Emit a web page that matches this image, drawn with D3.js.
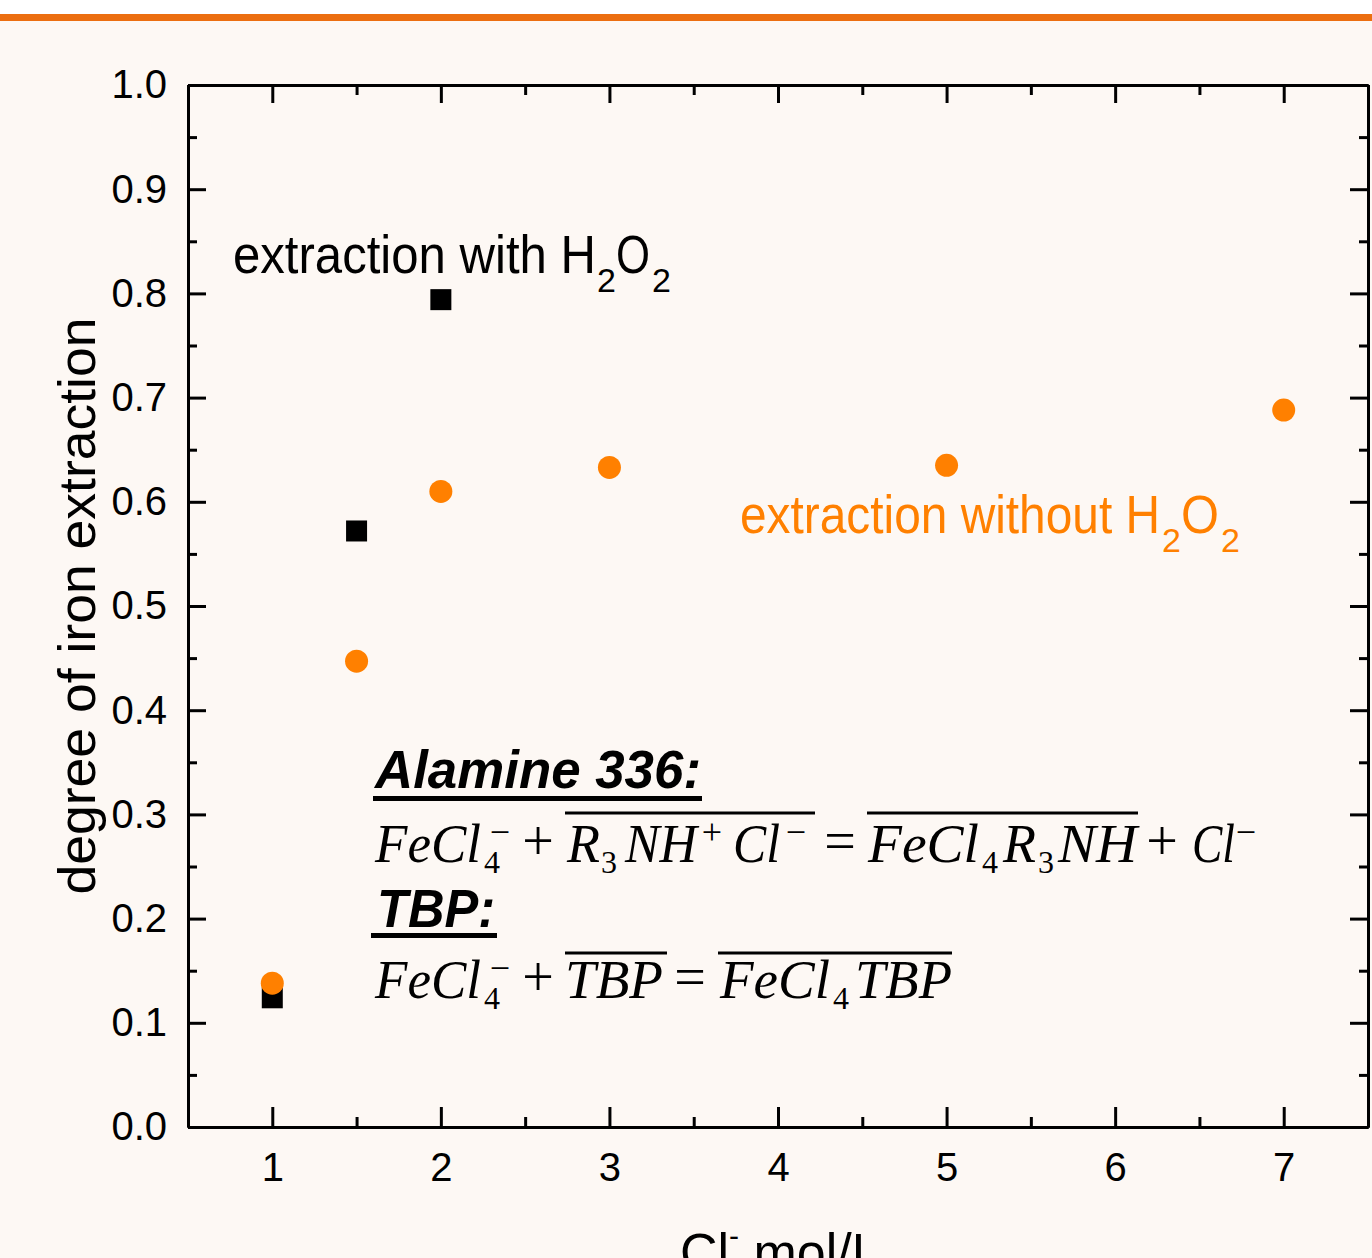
<!DOCTYPE html>
<html>
<head>
<meta charset="utf-8">
<script src="https://cdn.jsdelivr.net/npm/d3@7"></script>
<style>
  html, body { margin: 0; padding: 0; background: #fdf8f4; }
  svg { display: block; }
</style>
</head>
<body>
<svg id="chart" width="1372" height="1258"></svg>
<script>
// ---------- data ----------
const withX = [1, 1.5, 2];
const withY = [0.124, 0.572, 0.794];
const withoutX = [1, 1.5, 2, 3, 5, 7];
const withoutY = [0.138, 0.447, 0.610, 0.633, 0.635, 0.688];
const xTicks = [1, 2, 3, 4, 5, 6, 7];
const yTicks = [0, 0.1, 0.2, 0.3, 0.4, 0.5, 0.6, 0.7, 0.8, 0.9, 1.0];
const xMinor = [0.5, 1.5, 2.5, 3.5, 4.5, 5.5, 6.5, 7.5];
const yMinor = [0.05, 0.15, 0.25, 0.35, 0.45, 0.55, 0.65, 0.75, 0.85, 0.95];

const ORANGE = "#ff8000";
const SANS = "'Liberation Sans', Arial, sans-serif";
const SERIF = "'Liberation Serif', 'Times New Roman', serif";

const svg = d3.select("#chart");
// background
svg.append("rect").attr("x", 0).attr("y", 0).attr("width", 1372).attr("height", 1258).attr("fill", "#fdf8f4");
svg.append("rect").attr("x", 0).attr("y", 0).attr("width", 1372).attr("height", 14).attr("fill", "#ffffff");
svg.append("rect").attr("x", 0).attr("y", 14).attr("width", 1372).attr("height", 7).attr("fill", "#ec6e10");

const L = 188, R = 1368, T = 85, B = 1127;
const x = d3.scaleLinear().domain([0.5, 7.5]).range([L, R]);
const y = d3.scaleLinear().domain([0, 1]).range([B, T]);

function styleAxis(g) {
  g.selectAll("path.domain").attr("stroke", "#000").attr("stroke-width", 3);
  g.selectAll(".tick line").attr("stroke", "#000").attr("stroke-width", 3);
  g.selectAll(".tick text").attr("fill", "#000").attr("font-family", SANS).attr("font-size", 40);
}

// bottom
svg.append("g").attr("transform", `translate(0,${B})`)
  .call(d3.axisBottom(x).tickValues(xMinor).tickSize(-10).tickSizeOuter(0).tickFormat(""))
  .call(styleAxis);
svg.append("g").attr("transform", `translate(0,${B})`)
  .call(d3.axisBottom(x).tickValues(xTicks).tickSize(-20).tickSizeOuter(0).tickPadding(26).tickFormat(d3.format("d")))
  .call(styleAxis);
// top
svg.append("g").attr("transform", `translate(0,${T})`)
  .call(d3.axisTop(x).tickValues(xMinor).tickSize(-10).tickSizeOuter(0).tickFormat(""))
  .call(styleAxis);
svg.append("g").attr("transform", `translate(0,${T})`)
  .call(d3.axisTop(x).tickValues(xTicks).tickSize(-18).tickSizeOuter(0).tickFormat(""))
  .call(styleAxis);
// left
svg.append("g").attr("transform", `translate(${L},0)`)
  .call(d3.axisLeft(y).tickValues(yMinor).tickSize(-9).tickSizeOuter(0).tickFormat(""))
  .call(styleAxis);
svg.append("g").attr("transform", `translate(${L},0)`)
  .call(d3.axisLeft(y).tickValues(yTicks).tickSize(-18).tickSizeOuter(0).tickPadding(21).tickFormat(d3.format(".1f")))
  .call(styleAxis);
// right
svg.append("g").attr("transform", `translate(${R},0)`)
  .call(d3.axisRight(y).tickValues(yMinor).tickSize(-9).tickSizeOuter(0).tickFormat(""))
  .call(styleAxis);
svg.append("g").attr("transform", `translate(${R},0)`)
  .call(d3.axisRight(y).tickValues(yTicks).tickSize(-18).tickSizeOuter(0).tickFormat(""))
  .call(styleAxis);

// ---------- marks ----------
const S = 21;
svg.append("g").selectAll("rect").data(withX.map((d, i) => [d, withY[i]])).join("rect")
  .attr("x", d => x(d[0]) - S / 2).attr("y", d => y(d[1]) - S / 2)
  .attr("width", S).attr("height", S).attr("fill", "#000");
svg.append("g").selectAll("circle").data(withoutX.map((d, i) => [d, withoutY[i]])).join("circle")
  .attr("cx", d => x(d[0])).attr("cy", d => y(d[1])).attr("r", 11.5).attr("fill", ORANGE);

// ---------- axis titles ----------
svg.append("text").attr("transform", "translate(95,606) rotate(-90)")
  .attr("text-anchor", "middle").attr("font-family", SANS).attr("font-size", 52)
  .attr("textLength", 577).attr("lengthAdjust", "spacingAndGlyphs")
  .text("degree of iron extraction");

const xt = svg.append("text").attr("x", 680).attr("y", 1270).attr("font-family", SANS).attr("font-size", 52);
xt.append("tspan").text("Cl");
xt.append("tspan").attr("font-size", 30).attr("dy", -24).text("-");
xt.append("tspan").attr("dy", 24).text(" mol/L");

// ---------- series labels ----------
function seriesLabel(txt, x0, base, mainLen, x2a, xO, oLen, x2b, color) {
  const g = svg.append("g").attr("fill", color).attr("font-family", SANS);
  g.append("text").attr("x", x0).attr("y", base).attr("font-size", 54)
    .attr("textLength", mainLen).attr("lengthAdjust", "spacingAndGlyphs").text(txt);
  g.append("text").attr("x", x2a).attr("y", base + 19).attr("font-size", 34).text("2");
  g.append("text").attr("x", xO).attr("y", base).attr("font-size", 54)
    .attr("textLength", oLen).attr("lengthAdjust", "spacingAndGlyphs").text("O");
  g.append("text").attr("x", x2b).attr("y", base + 19).attr("font-size", 34).text("2");
}
seriesLabel("extraction with H", 233, 273, 363, 597, 616, 34, 652, "#000");
seriesLabel("extraction without H", 740, 533, 420, 1162, 1181, 38, 1221, ORANGE);

// ---------- reaction annotations ----------
const ann = svg.append("g").attr("fill", "#000");
function boldTitle(txt, x0, base, len, ux0, ux1, uy) {
  ann.append("text").attr("x", x0).attr("y", base).attr("font-family", SANS)
    .attr("font-size", 53).attr("font-weight", "bold").attr("font-style", "italic")
    .attr("textLength", len).attr("lengthAdjust", "spacingAndGlyphs").text(txt);
  ann.append("rect").attr("x", ux0).attr("y", uy).attr("width", ux1 - ux0).attr("height", 5).attr("fill", "#000");
}
boldTitle("Alamine 336:", 375, 788, 326, 373, 702, 796);
boldTitle("TBP:", 377, 927, 118, 371, 497, 933);

// math runs: [text, x, kind, len]
function mathRun(runs, base) {
  runs.forEach(([t, x0, kind, len]) => {
    const el = ann.append("text").attr("font-family", SERIF);
    if (kind === "it") {
      el.attr("x", x0).attr("y", base).attr("font-size", 54).attr("font-style", "italic");
      if (len) el.attr("textLength", len).attr("lengthAdjust", "spacingAndGlyphs");
    } else if (kind === "sub") {
      el.attr("x", x0).attr("y", base + 11).attr("font-size", 32);
    } else if (kind === "sup") {
      el.attr("x", x0).attr("y", base - 18).attr("font-size", 36).attr("text-anchor", "middle");
    } else if (kind === "op") {
      el.attr("x", x0).attr("y", base - 2).attr("font-size", 56).attr("text-anchor", "middle");
    }
    el.text(t);
  });
}
const eq1 = [
  ["FeCl", 375, "it", 106], ["4", 484, "sub"], ["\u2212", 500, "sup"],
  ["+", 538, "op"],
  ["R", 567, "it"], ["3", 601, "sub"], ["NH", 625, "it", 72], ["+", 712, "sup"],
  ["Cl", 733, "it", 47], ["\u2212", 796, "sup"],
  ["=", 840, "op"],
  ["FeCl", 868, "it", 111], ["4", 982, "sub"], ["R", 1003, "it"], ["3", 1038, "sub"],
  ["NH", 1058, "it", 79],
  ["+", 1162, "op"],
  ["Cl", 1192, "it", 43], ["\u2212", 1246, "sup"]
];
const eq2 = [
  ["FeCl", 375, "it", 106], ["4", 484, "sub"], ["\u2212", 500, "sup"],
  ["+", 538, "op"],
  ["TBP", 565, "it", 98],
  ["=", 690, "op"],
  ["FeCl", 720, "it", 110], ["4", 833, "sub"], ["TBP", 855, "it", 97]
];
mathRun(eq1, 862);
mathRun(eq2, 998);
// overbars
const bars = [[565, 815, 813], [867, 1138, 813], [565, 667, 953], [718, 952, 953]];
ann.selectAll("line.bar").data(bars).join("line").attr("class", "bar")
  .attr("x1", d => d[0]).attr("x2", d => d[1]).attr("y1", d => d[2]).attr("y2", d => d[2])
  .attr("stroke", "#000").attr("stroke-width", 3);
</script>
</body>
</html>
